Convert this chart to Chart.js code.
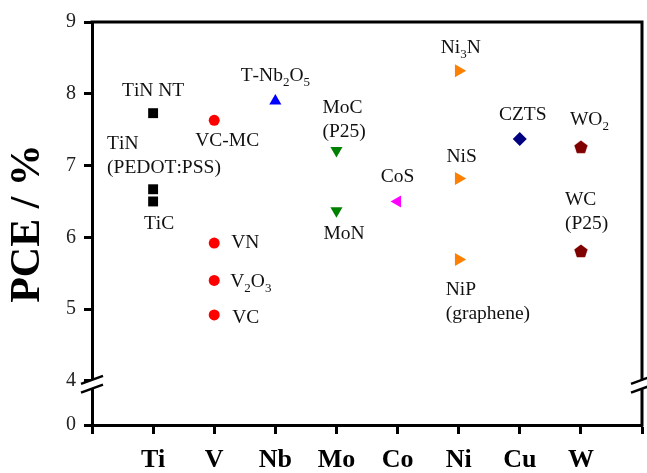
<!DOCTYPE html>
<html>
<head>
<meta charset="utf-8">
<script src="https://cdn.jsdelivr.net/npm/chart.js@4.4.1/dist/chart.umd.min.js"></script>
<style>
  html, body { margin: 0; padding: 0; background: #fff; }
  #wrap { width: 647px; height: 473px; }
</style>
</head>
<body>
<div id="wrap"><canvas id="pce"></canvas></div>
<script>
// Element groups along the x axis
const elements = ["Ti", "V", "Nb", "Mo", "Co", "Ni", "Cu", "W"];

// Counter electrode materials and PCE (%) per element ("_" = subscript, "|" = new line)
const tiMaterials = ["TiN NT", "TiN|(PEDOT:PSS)", "TiC"];
const tiPce = [7.73, 6.67, 6.5];
const vMaterials = ["VC-MC", "VN", "V_2O_3", "VC"];
const vPce = [7.63, 5.92, 5.4, 4.92];
const nbMaterials = ["T-Nb_2O_5"];
const nbPce = [7.9];
const moMaterials = ["MoC|(P25)", "MoN"];
const moPce = [7.21, 6.37];
const coMaterials = ["CoS"];
const coPce = [6.5];
const niMaterials = ["Ni_3N", "NiS", "NiP|(graphene)"];
const niPce = [8.32, 6.82, 5.69];
const cuMaterials = ["CZTS"];
const cuPce = [7.37];
const wMaterials = ["WO_2", "WC|(P25)"];
const wPce = [7.26, 5.81];

// y tick labels (axis is broken between 0 and 4)
const yTickLabels = [0, 4, 5, 6, 7, 8, 9];

// broken axis: 0..4 is squeezed into a short stretch below 4
const BREAK_AT = 4;
const BREAK_SPAN = 0.614;
const toAxis = (v) =>
  v >= BREAK_AT ? v : BREAK_AT - (BREAK_SPAN * (BREAK_AT - v)) / BREAK_AT;

const FONT = "'Liberation Serif', 'Times New Roman', serif";

// label offsets from the marker: [dx, dy, align]
const labelSpots = {
  "TiN NT": [0, -22, "center"],
  "TiN|(PEDOT:PSS)": [-46, -45, "left"],
  "TiC": [6, 22, "center"],
  "VC-MC": [13, 21, "center"],
  "VN": [17, 0, "left"],
  "V_2O_3": [16, 1, "left"],
  "VC": [18, 3, "left"],
  "T-Nb_2O_5": [0, -25, "center"],
  "MoC|(P25)": [-14, -43, "left"],
  "MoN": [-13, 23, "left"],
  "CoS": [0, -25, "center"],
  "Ni_3N": [-18, -23, "left"],
  "NiS": [3, -22, "center"],
  "NiP|(graphene)": [-13, 30, "left"],
  "CZTS": [3, -24, "center"],
  "WO_2": [-11, -27, "left"],
  "WC|(P25)": [-16, -51, "left"],
};

// pentagon marker (no built-in point style for it)
const pentagon = (() => {
  const c = document.createElement("canvas");
  c.width = 14;
  c.height = 14;
  const g = c.getContext("2d");
  g.fillStyle = "#800000";
  g.beginPath();
  for (let i = 0; i < 5; i++) {
    const a = -Math.PI / 2 + (i * 2 * Math.PI) / 5;
    const px = 7 + 7 * Math.cos(a);
    const py = 7.6 + 7 * Math.sin(a);
    i === 0 ? g.moveTo(px, py) : g.lineTo(px, py);
  }
  g.closePath();
  g.fill();
  return c;
})();

const makeSet = (el, values, materials, color, style, radius, rotation) => ({
  label: el,
  data: values.map((v) => ({ x: elements.indexOf(el) + 1, y: toAxis(v) })),
  materials: materials,
  backgroundColor: color,
  borderWidth: 0,
  pointStyle: style,
  pointRadius: radius,
  rotation: rotation || 0,
});

const datasets = [
  makeSet("Ti", tiPce, tiMaterials, "#000000", "rect", 7),
  makeSet("V", vPce, vMaterials, "#ff0000", "circle", 5.5),
  makeSet("Nb", nbPce, nbMaterials, "#0000ff", "triangle", 7),
  makeSet("Mo", moPce, moMaterials, "#008000", "triangle", 7, 180),
  makeSet("Co", coPce, coMaterials, "#ff00ff", "triangle", 7, 270),
  makeSet("Ni", niPce, niMaterials, "#ff8000", "triangle", 7.5, 90),
  makeSet("Cu", cuPce, cuMaterials, "#000080", "rectRot", 7),
  makeSet("W", wPce, wMaterials, "#800000", pentagon, 7),
];

// draws text with "_x" parts as subscripts
function drawRich(ctx, text, x, y, align) {
  const parts = [];
  for (let i = 0; i < text.length; i++) {
    if (text[i] === "_") {
      parts.push({ t: text[i + 1], sub: true });
      i++;
    } else {
      parts.push({ t: text[i], sub: false });
    }
  }
  const main = "19.5px " + FONT;
  const small = "13px " + FONT;
  let total = 0;
  parts.forEach((p) => {
    ctx.font = p.sub ? small : main;
    p.w = ctx.measureText(p.t).width;
    total += p.w;
  });
  let cx = align === "center" ? x - total / 2 : x;
  ctx.textAlign = "left";
  ctx.textBaseline = "middle";
  parts.forEach((p) => {
    ctx.font = p.sub ? small : main;
    ctx.fillText(p.t, cx, p.sub ? y + 7 : y);
    cx += p.w;
  });
}

const annotate = {
  id: "annotate",
  afterDatasetsDraw(chart) {
    const ctx = chart.ctx;
    ctx.save();
    ctx.fillStyle = "#111";
    chart.data.datasets.forEach((ds, di) => {
      const meta = chart.getDatasetMeta(di);
      meta.data.forEach((pt, i) => {
        const name = ds.materials[i];
        const [dx, dy, align] = labelSpots[name];
        name.split("|").forEach((line, li) => {
          drawRich(ctx, line, pt.x + dx, pt.y + dy + li * 24, align);
        });
      });
    });
    ctx.restore();
  },
};

// top/right frame lines and the axis break marks
const frame = {
  id: "frame",
  afterDraw(chart) {
    const { ctx, chartArea: a } = chart;
    const yScale = chart.scales.y;
    ctx.save();
    ctx.strokeStyle = "#000";
    ctx.lineWidth = 3;
    ctx.beginPath();
    ctx.moveTo(a.left - 1.5, a.top);
    ctx.lineTo(a.right, a.top);
    ctx.lineTo(a.right, a.bottom + 1.5);
    ctx.stroke();

    const yb = yScale.getPixelForValue(toAxis(3.7));
    [a.left, a.right].forEach((xb) => {
      ctx.fillStyle = "#fff";
      ctx.beginPath();
      ctx.moveTo(xb - 10, yb);
      ctx.lineTo(xb + 10, yb - 8);
      ctx.lineTo(xb + 10, yb);
      ctx.lineTo(xb - 10, yb + 8);
      ctx.closePath();
      ctx.fill();
      ctx.lineWidth = 2.5;
      ctx.beginPath();
      ctx.moveTo(xb - 11, yb - 0.4);
      ctx.lineTo(xb + 11, yb - 8.4);
      ctx.moveTo(xb - 11, yb + 8.4);
      ctx.lineTo(xb + 11, yb + 0.4);
      ctx.stroke();
    });
    ctx.restore();
  },
};

new Chart(document.getElementById("pce"), {
  type: "scatter",
  data: { datasets: datasets },
  options: {
    responsive: true,
    maintainAspectRatio: false,
    animation: false,
    layout: {
      autoPadding: false,
      padding: { top: 22, right: 5, left: 0, bottom: 0 },
    },
    plugins: { legend: { display: false }, tooltip: { enabled: false } },
    scales: {
      x: {
        type: "linear",
        min: 0,
        max: elements.length + 1,
        afterBuildTicks: (scale) => {
          scale.ticks = [];
          for (let i = 0; i <= elements.length + 1; i++) scale.ticks.push({ value: i });
        },
        afterFit: (scale) => {
          scale.height = 48;
          scale.paddingLeft = 0;
          scale.paddingRight = 0;
        },
        ticks: {
          autoSkip: false,
          maxRotation: 0,
          padding: 11,
          color: "#000",
          font: { family: FONT, size: 26, weight: "bold" },
          callback: (v) => elements[v - 1] || "",
        },
        grid: {
          drawOnChartArea: false,
          tickLength: 9,
          tickWidth: 3,
          tickColor: "#000",
        },
        border: { color: "#000", width: 3 },
      },
      y: {
        type: "linear",
        min: toAxis(0),
        max: 9,
        afterBuildTicks: (scale) => {
          scale.ticks = yTickLabels.map((v) => ({ value: toAxis(v) }));
        },
        afterFit: (scale) => {
          scale.width = 92;
          scale.paddingTop = 0;
          scale.paddingBottom = 0;
        },
        ticks: {
          padding: 8,
          color: "#222",
          font: { family: FONT, size: 20 },
          callback: (v, i) => String(yTickLabels[i]),
        },
        grid: {
          drawOnChartArea: false,
          tickLength: 8,
          tickWidth: 3,
          tickColor: "#000",
        },
        border: { color: "#000", width: 3 },
        title: {
          display: true,
          text: "PCE / %",
          color: "#000",
          padding: 3,
          font: { family: FONT, size: 42, weight: "bold" },
        },
      },
    },
  },
  plugins: [annotate, frame],
});
</script>
</body>
</html>
